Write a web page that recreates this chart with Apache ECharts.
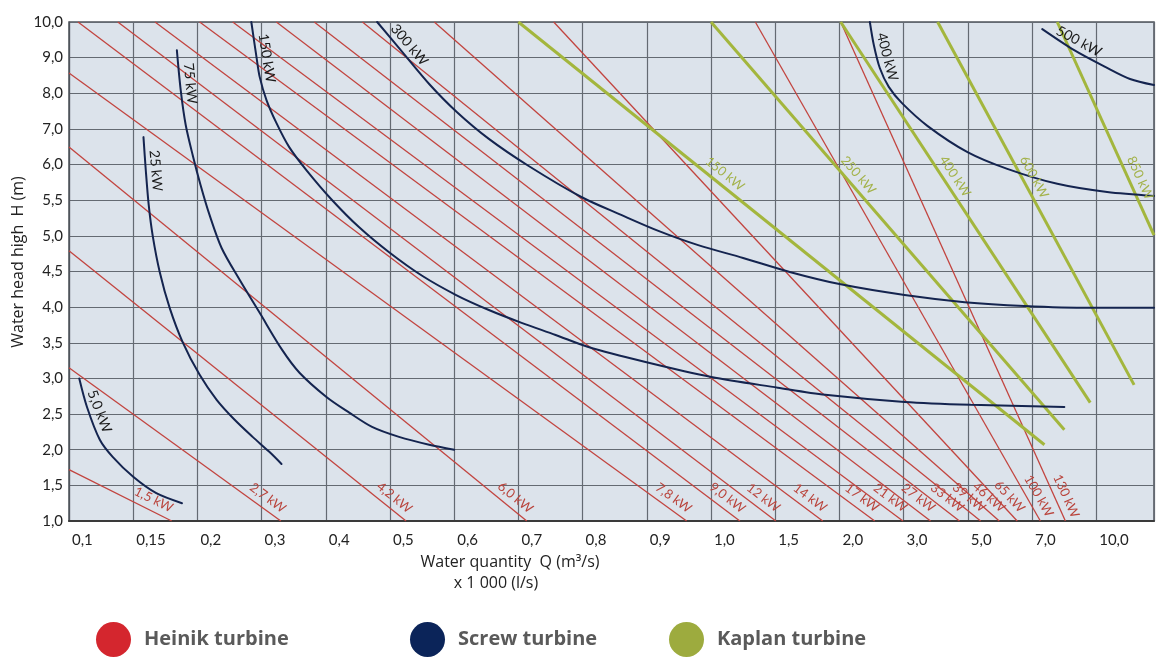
<!DOCTYPE html>
<html><head><meta charset="utf-8">
<script src="https://cdn.jsdelivr.net/npm/echarts@6/dist/echarts.min.js"></script>
<style>html,body{margin:0;padding:0;background:#fff;}#c{width:1157px;height:657px;}</style>
</head><body><div id="c"></div>
<script>
// ---- axis ticks (non-uniform, equally spaced on the chart) ----
const xTicks = [0.1,0.15,0.2,0.3,0.4,0.5,0.6,0.7,0.8,0.9,1.0,1.5,2.0,3.0,5.0,7.0,10.0];
const xTickLabels = ['0,1','0,15','0,2','0,3','0,4','0,5','0,6','0,7','0,8','0,9','1,0','1,5','2,0','3,0','5,0','7,0','10,0'];
const yTicks = [1.0,1.5,2.0,2.5,3.0,3.5,4.0,4.5,5.0,5.5,6.0,7.0,8.0,9.0,10.0];
const yTickLabels = ['1,0','1,5','2,0','2,5','3,0','3,5','4,0','4,5','5,0','5,5','6,0','7,0','8,0','9,0','10,0'];

// ---- Heinik turbine lines: [Q m3/s, H m] ----
const heinikLabels = ['1,5 kW','2,7 kW','4,2 kW','6,0 kW','7,8 kW','9,0 kW','12 kW','14 kW','17 kW','21 kW','27 kW','33 kW','39 kW','46 kW','65 kW','100 kW','130 kW'];
const heinikLines = [
  [[0.10,1.72],[0.18,1.0]],
  [[0.10,3.15],[0.33,1.0]],
  [[0.10,4.79],[0.525,1.0]],
  [[0.10,6.49],[0.713,1.0]],
  [[0.10,8.57],[0.962,1.0]],
  [[0.107,10],[1.225,1.0]],
  [[0.138,10],[1.505,1.0]],
  [[0.167,10],[1.87,1.0]],
  [[0.2035,10],[2.55,1.0]],
  [[0.255,10],[2.99,1.0]],
  [[0.323,10],[3.84,1.0]],
  [[0.382,10],[4.74,1.0]],
  [[0.457,10],[5.40,1.0]],
  [[0.569,10],[5.98,1.0]],
  [[0.755,10],[6.54,1.0]],
  [[1.345,10],[7.39,1.0]],
  [[2.02,10],[8.56,1.0]]
];

// ---- Screw turbine curves ----
const screwLabels = ['5,0 kW','25 kW','75 kW','150 kW','300 kW','400 kW','500 kW'];
const screwCurves = [
  [[0.108,3.0],[0.114,2.6],[0.124,2.14],[0.134,1.9],[0.15,1.62],[0.168,1.39],[0.188,1.25]],
  [[0.158,6.77],[0.1598,5.92],[0.1621,5.43],[0.1652,5.0],[0.1707,4.49],[0.1784,3.99],[0.1885,3.51],[0.2035,3.05],[0.23,2.70],[0.258,2.42],[0.286,2.18],[0.312,1.97],[0.331,1.80]],
  [[0.184,9.21],[0.187,8.09],[0.1909,7.11],[0.1963,6.27],[0.205,5.71],[0.219,5.29],[0.2377,4.83],[0.266,4.38],[0.297,3.92],[0.332,3.40],[0.359,3.08],[0.401,2.74],[0.4365,2.52],[0.472,2.32],[0.514,2.18],[0.561,2.07],[0.60,2.0]],
  [[0.284,10],[0.292,9.02],[0.297,8.46],[0.3076,7.81],[0.323,7.17],[0.343,6.49],[0.37,5.92],[0.41,5.50],[0.452,5.12],[0.4986,4.77],[0.55,4.44],[0.603,4.17],[0.654,3.96],[0.705,3.78],[0.758,3.61],[0.809,3.44],[0.898,3.23],[1.002,3.02],[1.52,2.87],[1.89,2.77],[3.03,2.67],[5.09,2.63],[8.51,2.60]],
  [[0.48,10],[0.519,9.16],[0.561,8.26],[0.604,7.475],[0.654,6.72],[0.716,5.98],[0.798,5.545],[0.861,5.29],[0.918,5.07],[0.98,4.87],[1.25,4.69],[1.62,4.49],[2.02,4.32],[3.03,4.17],[4.9,4.07],[6.76,4.016],[9.72,3.99],[12.7,3.99]],
  [[2.474,10],[2.536,9.355],[2.629,8.71],[2.769,8.18],[2.971,7.73],[3.75,7.08],[4.99,6.35],[6.23,5.94],[8.18,5.73],[10.51,5.615],[12.7,5.56]],
  [[7.48,9.80],[8.97,9.21],[10.42,8.74],[11.58,8.40],[12.7,8.23]]
];

// ---- Kaplan turbine lines ----
const kaplanLabels = ['150 kW','250 kW','400 kW','600 kW','850 kW'];
const kaplanLines = [
  [[0.70,10],[7.58,2.07]],
  [[1.0,10],[8.51,2.28]],
  [[2.02,10],[9.72,2.66]],
  [[4.06,10],[11.77,2.91]],
  [[8.18,10],[12.7,5.01]]
];

const RED = '#c2443f', NAVY = '#14244f', GREEN = '#a3b63d';
const FONT = 'Lato, "Open Sans", sans-serif';
const FONT2 = '"Open Sans", Lato, sans-serif';

// piecewise-linear mapping of a value onto the equally spaced tick index scale
function toIdx(v, ticks) {
  const n = ticks.length;
  if (v <= ticks[0]) return (v - ticks[0]) / (ticks[1] - ticks[0]);
  for (let k = 0; k < n - 1; k++) {
    if (v <= ticks[k + 1]) return k + (v - ticks[k]) / (ticks[k + 1] - ticks[k]);
  }
  return (n - 1) + (v - ticks[n - 1]) / (ticks[n - 1] - ticks[n - 2]);
}
const mapPt = p => [toIdx(p[0], xTicks), toIdx(p[1], yTicks)];

const series = [];
heinikLines.forEach(pts => series.push({
  name: 'Heinik turbine', type: 'line', data: pts.map(mapPt), symbol: 'none',
  lineStyle: { color: RED, width: 1.3 }, itemStyle: { color: RED }, z: 2, silent: true
}));
kaplanLines.forEach(pts => series.push({
  name: 'Kaplan turbine', type: 'line', data: pts.map(mapPt), symbol: 'none',
  lineStyle: { color: GREEN, width: 3 }, itemStyle: { color: GREEN }, z: 3, silent: true
}));
screwCurves.forEach(pts => series.push({
  name: 'Screw turbine', type: 'line', data: pts.map(mapPt), symbol: 'none', smooth: 0.3,
  lineStyle: { color: NAVY, width: 2, cap: 'round' }, itemStyle: { color: NAVY }, z: 4, silent: true
}));

const chart = echarts.init(document.getElementById('c'), null, { renderer: 'canvas' });
const isInt = v => Math.abs(v - Math.round(v)) < 1e-6;
const legendText = { fontSize: 20, fontWeight: 'bold', color: '#5a5a5a', fontFamily: FONT2, padding: [0, 0, 3, 8] };
const mkLegend = (name, color, left) => ({
  left: left, top: 622, padding: 0, icon: 'circle', itemWidth: 35, itemHeight: 35, selectedMode: false,
  data: [{ name: name, itemStyle: { color: color } }], textStyle: legendText
});

chart.setOption({
  animation: false,
  backgroundColor: '#ffffff',
  grid: { left: 69, top: 22, width: 1088, height: 499, show: true, backgroundColor: '#dce3eb', borderColor: '#4f545b', borderWidth: 1.5 },
  xAxis: {
    type: 'value', min: 0, max: 16.9, interval: 1,
    axisLine: { show: true, onZero: false, lineStyle: { color: '#3a3a3a', width: 2 } },
    axisTick: { show: false },
    splitLine: { show: true, lineStyle: { color: '#646a72', width: 1.2 } },
    axisLabel: { formatter: v => isInt(v) ? (xTickLabels[Math.round(v)] || '') : '', align: 'left', padding: [0, 0, 0, 3], margin: 12, fontSize: 15, color: '#222', fontFamily: FONT, showMaxLabel: true }
  },
  yAxis: {
    type: 'value', min: 0, max: 14, interval: 1,
    axisLine: { show: true, lineStyle: { color: '#4f545b', width: 1.2 } },
    axisTick: { show: false },
    splitLine: { show: true, lineStyle: { color: '#646a72', width: 1.2 } },
    axisLabel: { formatter: v => isInt(v) ? (yTickLabels[Math.round(v)] || '') : '', margin: 6, fontSize: 15, color: '#222', fontFamily: FONT }
  },
  legend: [
    mkLegend('Heinik turbine', '#d4262e', 96),
    mkLegend('Screw turbine', '#0b2459', 410),
    mkLegend('Kaplan turbine', '#9dab3e', 669)
  ],
  series: series
});

// ---- labels placed along the drawn lines ----
const px = p => chart.convertToPixel({ gridIndex: 0 }, mapPt(p));
const yBottom = chart.convertToPixel({ gridIndex: 0 }, [0, 0])[1];
const g = [];
function textEl(str, cx, cy, theta, color, size, font) {
  return { type: 'text', x: cx, y: cy, rotation: -theta, silent: true, z: 10,
    style: { text: str, fill: color, fontSize: size, fontFamily: font || FONT, align: 'center', verticalAlign: 'middle', textAlign: 'center', textVerticalAlign: 'middle' } };
}
function pointAtY(poly, y) {
  for (let k = 0; k < poly.length - 1; k++) {
    const a = poly[k], b = poly[k + 1];
    if ((y - a[1]) * (y - b[1]) <= 0 && a[1] !== b[1]) {
      const t = (y - a[1]) / (b[1] - a[1]);
      return [a[0] + t * (b[0] - a[0]), y, Math.atan2(b[1] - a[1], b[0] - a[0])];
    }
  }
  const a = poly[poly.length - 2], b = poly[poly.length - 1];
  return [b[0], b[1], Math.atan2(b[1] - a[1], b[0] - a[0])];
}
function pointAtS(poly, s) {
  for (let k = 0; k < poly.length - 1; k++) {
    const a = poly[k], b = poly[k + 1];
    const L = Math.hypot(b[0] - a[0], b[1] - a[1]);
    if (s <= L) {
      const t = s / L;
      return [a[0] + t * (b[0] - a[0]), a[1] + t * (b[1] - a[1]), Math.atan2(b[1] - a[1], b[0] - a[0])];
    }
    s -= L;
  }
  const a = poly[poly.length - 2], b = poly[poly.length - 1];
  return [b[0], b[1], Math.atan2(b[1] - a[1], b[0] - a[0])];
}
heinikLines.forEach((pts, k) => {
  const poly = pts.map(px);
  const a = poly[0], b = poly[poly.length - 1];
  const th = Math.atan2(b[1] - a[1], b[0] - a[0]);
  const P = pointAtY(poly, yBottom - 3 - 19 * Math.sin(th));
  g.push(textEl(heinikLabels[k], P[0] + 11 * Math.sin(th), P[1] - 11 * Math.cos(th), th, '#b9443c', 13));
});
kaplanLines.forEach((pts, k) => {
  const poly = pts.map(px);
  const yA = chart.convertToPixel({ gridIndex: 0 }, [0, toIdx(5.75, yTicks)])[1];
  const P = pointAtY(poly, yA);
  const th = P[2];
  g.push(textEl(kaplanLabels[k], P[0] + 11 * Math.sin(th), P[1] - 11 * Math.cos(th), th, '#a3b24a', 13));
});
screwCurves.forEach((pts, k) => {
  const poly = pts.map(px);
  const half = screwLabels[k].length * 3.7;
  const P = pointAtS(poly, half + 16);
  const th = P[2];
  g.push(textEl(screwLabels[k], P[0] + 10 * Math.sin(th), P[1] - 10 * Math.cos(th), th, '#1a1a1a', 14));
});
// axis names
const nameStyle = (t) => ({ text: t, fill: '#222', fontSize: 16, fontFamily: FONT2, align: 'center', verticalAlign: 'middle', textAlign: 'center', textVerticalAlign: 'middle' });
g.push({ type: 'text', x: 18, y: 262, rotation: Math.PI / 2, silent: true, style: nameStyle('Water head high  H (m)') });
g.push({ type: 'text', x: 510, y: 562, silent: true, style: nameStyle('Water quantity  Q (m³/s)') });
g.push({ type: 'text', x: 496, y: 583, silent: true, style: nameStyle('x 1 000 (l/s)') });
chart.setOption({ graphic: g });
</script></body></html>
